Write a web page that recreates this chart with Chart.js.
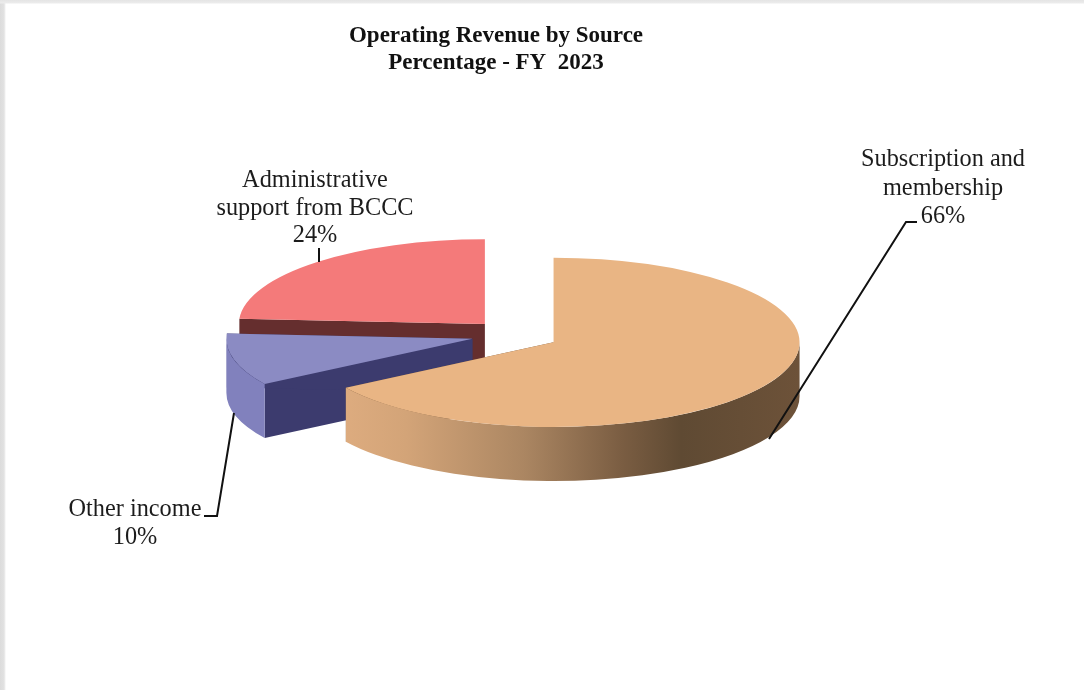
<!DOCTYPE html>
<html>
<head>
<meta charset="utf-8">
<title>Operating Revenue by Source</title>
<script src="https://cdn.jsdelivr.net/npm/chart.js@4"></script>
<style>
html, body { margin: 0; padding: 0; background: #fff; overflow: hidden; }
body {
    width: 1084px; height: 690px;
    background:
        linear-gradient(to bottom, #e4e4e4 0, #ececec 3px, rgba(255,255,255,0) 4px),
        linear-gradient(to right, #dcdcdc 0, #e2e2e2 4px, #fff 6px);
}
canvas { display: block; }
</style>
</head>
<body>
<canvas id="pie" width="1084" height="690"></canvas>
<script>
const titleLines = ["Operating Revenue by Source", "Percentage - FY  2023"]
const categories = ["Subscription and membership", "Other income", "Administrative support from BCCC"]
const values = [66, 10, 24]
const topColors = ["#e9b584", "#8b8bc3", "#f47a7a"]
const cutColors = ["#6b4f36", "#3c3b6e", "#652e2e"]

// label lines, the percent comes from values
const labelLines = [
    ["Subscription and", "membership"],
    ["Other income"],
    ["Administrative", "support from BCCC"]
]

// look of the fake 3d pie
const pieX = 515, pieY = 335
const pieRadius = 246
const tilt = 0.344
const depth = 54
const explode = 44
const labelFont = '24.3px "Liberation Serif"'

const labelSpots = [
    { x: 943, y: [166, 195, 223] },
    { x: 135, y: [516, 544] },
    { x: 315, y: [187, 215, 242] }
]
const leaders = [
    [[769, 439], [906, 222], [917, 222]],
    [[234, 413], [217, 516], [204, 516]],
    [[319, 262], [319, 248]]
]

function rimFill(ctx, i, px) {
    if (i == 0) {
        let g = ctx.createLinearGradient(px - pieRadius, 0, px + pieRadius, 0)
        g.addColorStop(0, "#e3b083")
        g.addColorStop(0.2, "#d3a478")
        g.addColorStop(0.44, "#ab8662")
        g.addColorStop(0.64, "#7a5d42")
        g.addColorStop(0.76, "#5f4a33")
        g.addColorStop(1, "#6d5239")
        return g
    }
    return i == 1 ? "#8181bd" : cutColors[i]
}

function drawCut(ctx, px, py, angle, color) {
    let ex = px + Math.cos(angle) * pieRadius
    let ey = py + Math.sin(angle) * pieRadius * tilt
    ctx.fillStyle = color
    ctx.beginPath()
    ctx.moveTo(px, py)
    ctx.lineTo(ex, ey)
    ctx.lineTo(ex, ey + depth)
    ctx.lineTo(px, py + depth)
    ctx.closePath()
    ctx.fill()
}

const pie3d = {
    id: "pie3d",
    beforeDatasetDraw(chart, args) {
        let ctx = chart.ctx
        let arcs = args.meta.data
        // back slices first
        for (let i = arcs.length - 1; i >= 0; i--) {
            let arc = arcs[i]
            let mid = (arc.startAngle + arc.endAngle) / 2
            let px = pieX + Math.cos(mid) * explode
            let py = pieY + Math.sin(mid) * explode * tilt

            drawCut(ctx, px, py, arc.startAngle, cutColors[i])
            drawCut(ctx, px, py, arc.endAngle, cutColors[i])

            let a0 = Math.max(arc.startAngle, 0)
            let a1 = Math.min(arc.endAngle, Math.PI)
            if (a1 > a0) {
                ctx.fillStyle = rimFill(ctx, i, px)
                ctx.beginPath()
                ctx.ellipse(px, py, pieRadius, pieRadius * tilt, 0, a0, a1)
                ctx.ellipse(px, py + depth, pieRadius, pieRadius * tilt, 0, a1, a0, true)
                ctx.closePath()
                ctx.fill()
            }

            ctx.save()
            ctx.translate(px, py)
            ctx.scale(1, tilt)
            ctx.translate(-arc.x, -arc.y)
            arc.draw(ctx)
            ctx.restore()
        }
        return false
    },
    afterDraw(chart) {
        let ctx = chart.ctx
        ctx.save()
        ctx.strokeStyle = "#111"
        ctx.lineWidth = 2
        leaders.forEach(pts => {
            ctx.beginPath()
            pts.forEach((p, k) => k ? ctx.lineTo(p[0], p[1]) : ctx.moveTo(p[0], p[1]))
            ctx.stroke()
        })
        ctx.fillStyle = "#1c1c1c"
        ctx.font = labelFont
        ctx.textAlign = "center"
        ctx.textBaseline = "alphabetic"
        labelLines.forEach((lines, i) => {
            lines.concat(values[i] + "%").forEach((t, k) => {
                ctx.fillText(t, labelSpots[i].x, labelSpots[i].y[k])
            })
        })
        ctx.restore()
    }
}

new Chart(document.getElementById("pie"), {
    type: "pie",
    data: {
        labels: categories,
        datasets: [{
            data: values,
            backgroundColor: topColors,
            borderWidth: 0,
            radius: pieRadius
        }]
    },
    options: {
        responsive: false,
        animation: false,
        events: [],
        layout: { padding: { right: 92 } },
        plugins: {
            legend: { display: false },
            tooltip: { enabled: false },
            title: {
                display: true,
                text: titleLines,
                color: "#111",
                font: { family: "Liberation Serif", size: 23, weight: "bold", lineHeight: 1.18 },
                padding: { top: 22, bottom: 10 }
            }
        }
    },
    plugins: [pie3d]
})
</script>
</body>
</html>
